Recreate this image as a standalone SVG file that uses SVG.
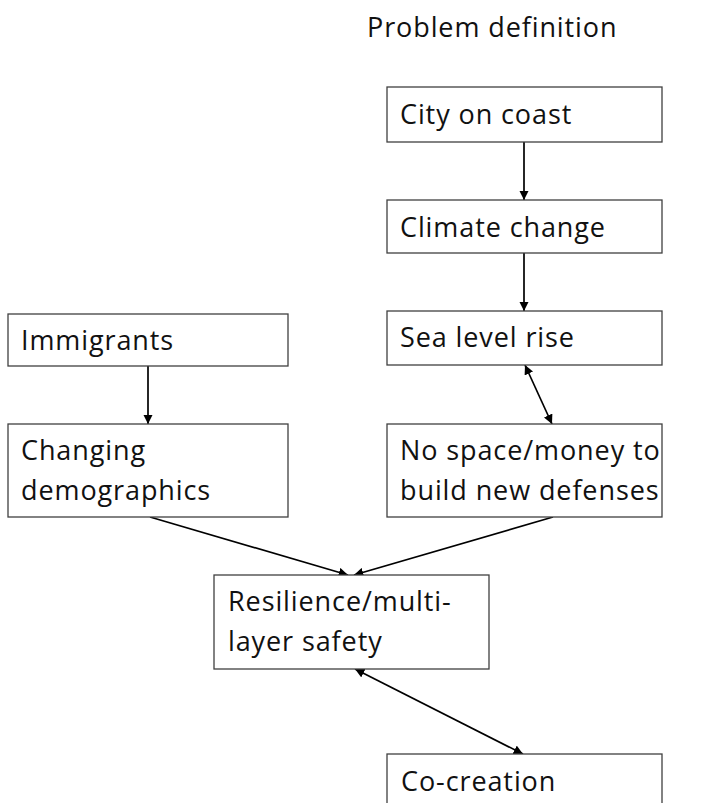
<svg xmlns="http://www.w3.org/2000/svg" width="709" height="803" viewBox="0 0 709 803">
<style>
.box{fill:#fff;stroke:#404040;stroke-width:1.3}
.t{font-family:"Open Sans","Noto Sans",sans-serif;font-size:27px;letter-spacing:0.9px;fill:#111}
.c{stroke:#000;stroke-width:1.7;fill:none}
</style>
<defs>
<marker id="ah" viewBox="0 0 10 10" refX="10" refY="5" markerWidth="5.5" markerHeight="5.5" orient="auto-start-reverse" markerUnits="strokeWidth">
<path d="M0,0 L10,5 L0,10 z" fill="#000"/>
</marker>
</defs>
<rect width="709" height="803" fill="#fff"/>
<text class="t" x="367" y="37">Problem definition</text>
<g id="connectors">
<line class="c" x1="524" y1="142" x2="524" y2="200" marker-end="url(#ah)"/>
<line class="c" x1="524" y1="253" x2="524" y2="311" marker-end="url(#ah)"/>
<line class="c" x1="525" y1="365" x2="552" y2="424" marker-start="url(#ah)" marker-end="url(#ah)"/>
<line class="c" x1="148" y1="366" x2="148" y2="424" marker-end="url(#ah)"/>
<line class="c" x1="150" y1="517" x2="348" y2="575" marker-end="url(#ah)"/>
<line class="c" x1="553" y1="517" x2="354" y2="575" marker-end="url(#ah)"/>
<line class="c" x1="355" y1="669" x2="523" y2="754" marker-start="url(#ah)" marker-end="url(#ah)"/>
</g>
<g id="city">
<rect class="box" x="387" y="87" width="275" height="55"/>
<text class="t" x="400" y="124">City on coast</text>
</g>
<g id="climate">
<rect class="box" x="387" y="200" width="275" height="53"/>
<text class="t" x="400" y="237">Climate change</text>
</g>
<g id="sea">
<rect class="box" x="387" y="311" width="275" height="54"/>
<text class="t" x="400" y="347">Sea level rise</text>
</g>
<g id="immigrants">
<rect class="box" x="8" y="314" width="280" height="52"/>
<text class="t" x="21" y="350">Immigrants</text>
</g>
<g id="demographics">
<rect class="box" x="8" y="424" width="280" height="93"/>
<text class="t" x="21" y="460">Changing</text>
<text class="t" x="21" y="500">demographics</text>
</g>
<g id="nospace">
<rect class="box" x="387" y="424" width="275" height="93"/>
<text class="t" x="400" y="460">No space/money to</text>
<text class="t" x="400" y="500">build new defenses</text>
</g>
<g id="resilience">
<rect class="box" x="214" y="575" width="275" height="94"/>
<text class="t" x="228" y="611">Resilience/multi-</text>
<text class="t" x="228" y="651">layer safety</text>
</g>
<g id="cocreation">
<rect class="box" x="387" y="754" width="275" height="60"/>
<text class="t" x="401" y="791">Co-creation</text>
</g>
</svg>
